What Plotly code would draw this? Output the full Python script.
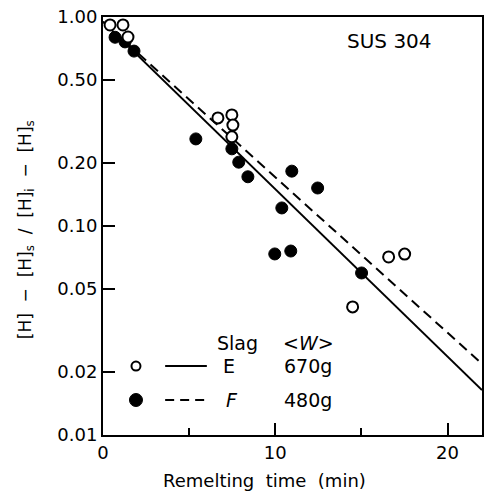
import plotly.graph_objects as go

# ---- data ----
E_time = [0.41, 1.16, 1.45, 6.67, 7.48, 7.54, 7.48, 16.58, 17.51, 14.49]
E_ratio = [0.916, 0.916, 0.802, 0.329, 0.340, 0.304, 0.267, 0.0711, 0.0734, 0.0410]

F_time = [0.70, 1.28, 1.80, 5.39, 7.48, 7.88, 8.41, 10.96, 12.46, 10.38, 9.97, 10.90, 15.01]
F_ratio = [0.80, 0.76, 0.687, 0.261, 0.234, 0.202, 0.172, 0.183, 0.152, 0.122, 0.0735, 0.0759, 0.0596]

E_fit_time = [0, 22]
E_fit_ratio = [0.95, 0.0164]
F_fit_time = [0, 22]
F_fit_ratio = [0.95, 0.0219]

y_tickvals = [0.01, 0.02, 0.05, 0.10, 0.20, 0.50, 1.00]
y_ticktext = ["0.01", "0.02", "0.05", "0.10", "0.20", "0.50", "1.00"]
x_tickvals = [0, 10, 20]
x_minor = [5, 15]

FONT = "DejaVu Sans"

fig = go.Figure()
fig.add_trace(go.Scatter(x=E_fit_time, y=E_fit_ratio, mode="lines",
                         line=dict(color="black", width=2), showlegend=False))
fig.add_trace(go.Scatter(x=F_fit_time, y=F_fit_ratio, mode="lines",
                         line=dict(color="black", width=2, dash="10px,6px"), showlegend=False))
fig.add_trace(go.Scatter(x=F_time, y=F_ratio, mode="markers",
                         marker=dict(symbol="circle", size=12, color="black",
                                     line=dict(color="black", width=1)),
                         showlegend=False))
fig.add_trace(go.Scatter(x=E_time, y=E_ratio, mode="markers",
                         marker=dict(symbol="circle", size=11, color="white",
                                     line=dict(color="black", width=2)),
                         showlegend=False))

fig.update_xaxes(range=[0, 22], tickvals=x_tickvals, ticks="inside", ticklen=12,
                 tickwidth=2, tickcolor="black", showline=True, linewidth=2,
                 linecolor="black", mirror=True, showgrid=False, zeroline=False,
                 automargin=False, ticklabeloverflow="allow",
                 tickfont=dict(family=FONT, size=18, color="black"),
                 minor=dict(tickvals=x_minor, ticks="inside", ticklen=7,
                            tickwidth=2, tickcolor="black", showgrid=False))
fig.update_yaxes(type="log", range=[-2, 0], tickvals=y_tickvals, ticktext=y_ticktext,
                 ticks="inside", ticklen=12, tickwidth=2, tickcolor="black",
                 showline=True, linewidth=2, linecolor="black", mirror=True,
                 showgrid=False, zeroline=False, automargin=False,
                 ticklabeloverflow="allow",
                 tickfont=dict(family=FONT, size=18, color="black"))

ann = []
def txt(x, y, t, size=19, xanchor="center"):
    ann.append(dict(x=x, y=y, xref="paper", yref="paper", text=t, showarrow=False,
                    xanchor=xanchor, yanchor="middle",
                    font=dict(family=FONT, size=size, color="black")))

txt(0.757, 0.943, "SUS 304", 20)
txt(0.427, -0.108, "Remelting  time  (min)", 18)
ann.append(dict(x=-0.203, y=0.49, xref="paper", yref="paper",
                text="[H]  −  [H]<sub>s</sub>  /  [H]<sub>i</sub>  −  [H]<sub>s</sub>",
                textangle=-90, showarrow=False, xanchor="center", yanchor="middle",
                font=dict(family=FONT, size=17, color="black")))
# legend block
txt(0.354, 0.220, "Slag")
txt(0.542, 0.220, "&lt;<i>W</i>&gt;")
txt(0.332, 0.165, "E")
txt(0.541, 0.165, "670g")
txt(0.340, 0.0837, "<i>F</i>")
txt(0.541, 0.0837, "480g")

shapes = [
    dict(type="line", xref="paper", yref="paper", x0=0.164, x1=0.274, y0=0.165, y1=0.165,
         line=dict(color="black", width=2)),
    dict(type="line", xref="paper", yref="paper", x0=0.164, x1=0.277, y0=0.0837, y1=0.0837,
         line=dict(color="black", width=2, dash="9px,6px")),
    dict(type="circle", xref="paper", yref="paper", xsizemode="pixel", ysizemode="pixel",
         xanchor=0.087, yanchor=0.165, x0=-4.5, x1=4.5, y0=-4.5, y1=4.5,
         line=dict(color="black", width=2), fillcolor="white"),
    dict(type="circle", xref="paper", yref="paper", xsizemode="pixel", ysizemode="pixel",
         xanchor=0.087, yanchor=0.0837, x0=-6.5, x1=6.5, y0=-6.5, y1=6.5,
         line=dict(color="black", width=1), fillcolor="black"),
]

fig.update_layout(width=486, height=497, margin=dict(l=103, r=4, t=17, b=62),
                  plot_bgcolor="white", paper_bgcolor="white",
                  annotations=ann, shapes=shapes, showlegend=False)

fig.write_html("out.html", config={"displayModeBar": False},
               post_script="document.body.style.margin='0';document.body.style.overflow='hidden';")
